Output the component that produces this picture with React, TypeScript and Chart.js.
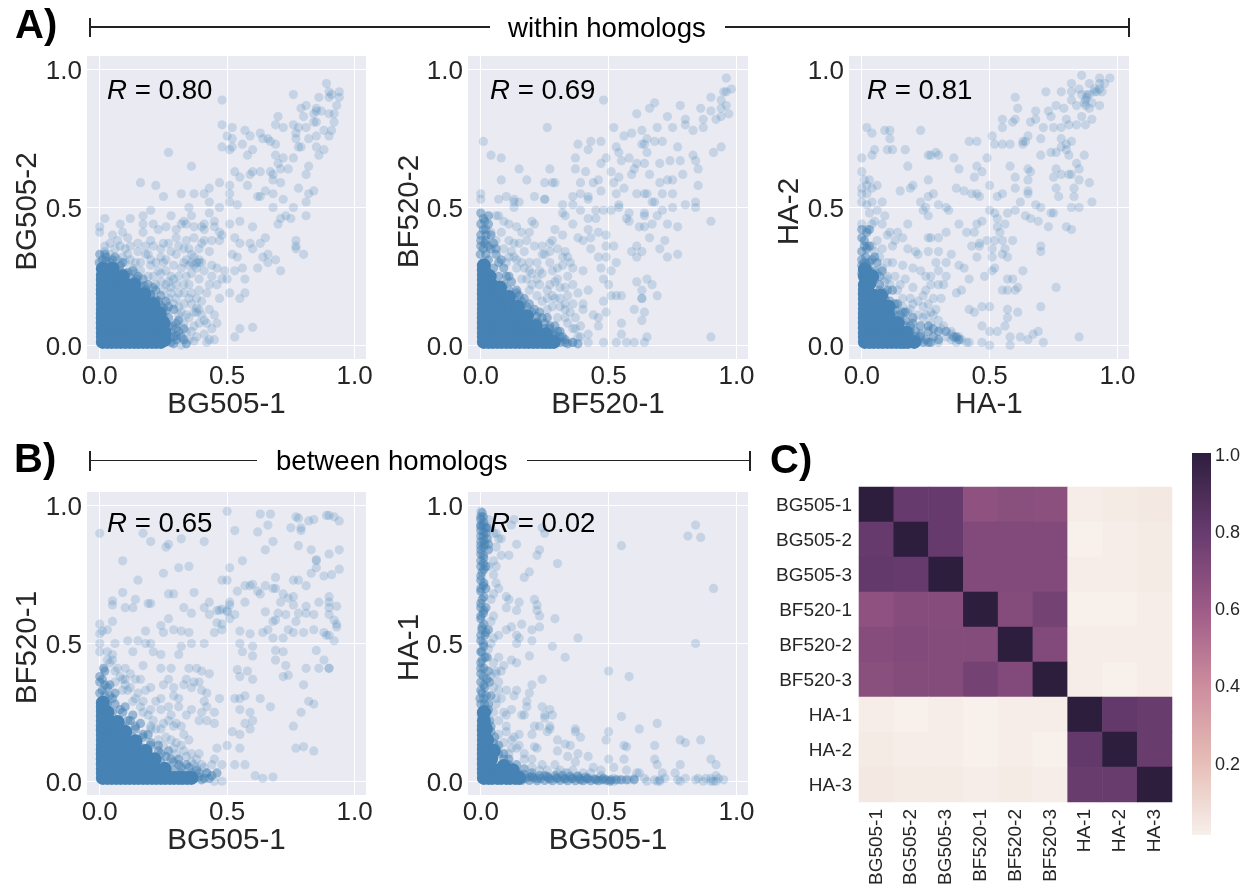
import React, { useEffect, useRef } from "react";
import { Chart, registerables } from "chart.js";

Chart.register(...registerables);

const FONT = '"Liberation Sans", Arial, sans-serif';
const INK = "#262626";
const tickValues = [0, 0.5, 1];
const sampleNames = ["BG505-1", "BG505-2", "BG505-3", "BF520-1", "BF520-2", "BF520-3", "HA-1", "HA-2", "HA-3"];
const colorbarTicks = [0.2, 0.4, 0.6, 0.8, 1.0];

type P = number[];

const a1Core: P[] = [[.012,.012],[.047,.012],[.082,.012],[.117,.012],[.152,.012],[.187,.012],[.222,.012],[.012,.045],[.047,.045],[.082,.045],[.117,.045],[.152,.045],[.187,.045],[.225,.045],[.012,.08],[.047,.08],[.082,.08],[.117,.08],[.152,.08],[.187,.08],[.222,.08],[.012,.115],[.047,.115],[.082,.115],[.117,.115],[.152,.115],[.187,.115],[.212,.115],[.012,.15],[.047,.15],[.082,.15],[.117,.15],[.152,.15],[.182,.15],[.012,.185],[.047,.185],[.082,.185],[.117,.185],[.145,.185],[.012,.22],[.047,.22],[.082,.22],[.105,.22],[.012,.255],[.047,.255],[.012,.278],[.255,.02],[.255,.045],[.25,.08],[.235,.115],[.21,.15],[.175,.185],[.135,.22],[.09,.25],[.05,.278],[.012,.03],[.012,.062],[.012,.098],[.012,.132],[.012,.168],[.012,.202],[.012,.238],[.03,.012],[.065,.012],[.1,.012],[.135,.012],[.17,.012],[.205,.012],[.24,.012]];
const a1Edge: P[] = [[.06,.285],[.08,.27],[.1,.26],[.12,.245],[.14,.23],[.16,.215],[.18,.2],[.2,.18],[.22,.165],[.24,.145],[.26,.125],[.255,.09],[.27,.07],[.28,.045],[.29,.03],[.26,.02],[.28,.01],[.3,.02],[.25,.1],[.23,.13],[-.002,.3],[.01,.31],[.025,.32],[.04,.3],[.15,.25],[.19,.22],[.22,.2],[.26,.16],[.29,.13],[.31,.09],[.33,.06],[.32,.03],[.3,.06],[.29,.005],[.3,.035],[.285,.07],[.27,.1],[.25,.135],[.23,.16],[.2,.185],[.175,.215],[.145,.24],[.11,.265],[.08,.29],[.05,.31],[.025,.305],[.3,.08],[.31,.05],[.33,.02],[.34,.005],[.27,.14],[.24,.18],[.21,.21],[.17,.24],[.13,.27],[.09,.3],[.06,.32],[.02,.33],[.0,.33]];
const a1Sparse: P[] = [[.89,.95],[.94,.92],[.94,.9],[.9,.9],[.9,.92],[.91,.91],[.86,.9],[.76,.91],[.48,.89],[.79,.86],[.81,.87],[.85,.86],[.84,.84],[.85,.85],[.87,.85],[.93,.87],[.9,.84],[.92,.84],[.92,.81],[.85,.81],[.84,.81],[.8,.83],[.7,.83],[.69,.8],[.72,.79],[.76,.8],[.78,.79],[.81,.79],[.88,.78],[.91,.78],[.9,.76],[.77,.77],[.77,.75],[.79,.72],[.78,.72],[.82,.75],[.85,.76],[.85,.72],[.88,.71],[.86,.69],[.48,.8],[.52,.79],[.57,.78],[.63,.77],[.59,.76],[.66,.75],[.64,.75],[.67,.74],[.69,.73],[.5,.76],[.52,.75],[.56,.73],[.6,.71],[.48,.72],[.51,.71],[.52,.72],[.27,.7],[.36,.65],[.58,.69],[.69,.69],[.72,.68],[.7,.66],[.76,.68],[.71,.64],[.74,.64],[.82,.65],[.81,.62],[.53,.63],[.55,.61],[.59,.62],[.6,.63],[.63,.63],[.68,.62],[.67,.63],[.68,.6],[.71,.59],[.78,.57],[.82,.55],[.84,.56],[.16,.59],[.22,.58],[.32,.55],[.37,.55],[.25,.54],[.47,.59],[.51,.58],[.43,.57],[.41,.55],[.58,.58],[.51,.55],[.65,.56],[.62,.54],[.63,.54],[.68,.55],[.72,.53],[.81,.52],[.76,.5],[.68,.5],[.43,.52],[.47,.5],[.51,.52],[.54,.51],[.35,.5],[.2,.49],[.17,.47],[.02,.46],[.0,.43],[.08,.44],[.12,.46],[.17,.44],[.21,.44],[.28,.47],[.33,.45],[.36,.47],[.43,.48],[.41,.44],[.45,.45],[.55,.45],[.51,.44],[.6,.43],[.7,.44],[.71,.46],[.73,.47],[.75,.46],[.81,.47],[.0,.41],[.02,.36],[.02,.34],[.09,.41],[.11,.39],[.17,.41],[.23,.42],[.26,.43],[.3,.42],[.32,.44],[.34,.44],[.37,.43],[.4,.43],[.45,.43],[.47,.41],[.48,.4],[.47,.38],[.53,.39],[.55,.37],[.59,.37],[.6,.35],[.65,.39],[.63,.37],[.66,.33],[.64,.32],[.69,.31],[.66,.3],[.77,.38],[.77,.36],[.77,.35],[.8,.33],[.71,.27],[.62,.28],[.52,.33],[.54,.32],[.53,.27],[.56,.28],[.57,.24],[.49,.27],[.48,.24],[.5,.24],[.43,.22],[.46,.22],[.51,.19],[.55,.17],[.57,.19],[.47,.17],[.42,.19],[.39,.2],[.34,.25],[.37,.29],[.39,.31],[.38,.28],[.36,.3],[.38,.3],[.3,.33],[.33,.35],[.27,.37],[.21,.36],[.18,.33],[.16,.3],[.11,.33],[.14,.3],[.24,.32],[.29,.29],[.26,.27],[.21,.25],[.24,.23],[.3,.22],[.35,.22],[.33,.19],[.36,.15],[.4,.11],[.39,.08],[.41,.04],[.43,.02],[.38,.03],[.34,.05],[.32,.12],[.3,.17],[.28,.19],[.46,.08],[.53,.03],[.55,.06],[.6,.065],[.42,.01],[.45,.02],[.32,.0],[.37,.015],[.44,.06],[.04,.37],[.06,.35],[.08,.36],[.12,.36],[.25,.37],[.3,.39],[.35,.35],[.43,.34],[.4,.37],[.41,.42],[.44,.38],[.34,.31],[.28,.25],[.26,.22],[.32,.28],[.25,.3],[.2,.29],[.23,.27],[.09,.32],[.14,.26],[.33,.15],[.37,.12],[.38,.17],[.35,.1],[.04,.33],[.07,.31],[.1,.3],[.13,.28],[.16,.27],[.19,.25],[.22,.22],[.25,.2],[.27,.17],[.29,.15],[.31,.11],[.33,.08],[.36,.05],[.35,.02],[.34,.11],[.31,.14],[.28,.21],[.22,.3],[.19,.33],[.15,.34],[.12,.31],[.1,.35],[.07,.38],[.05,.4],[.26,.31],[.28,.34],[.31,.36],[.34,.38],[.37,.39],[.41,.38],[.39,.35],[.36,.33],[.33,.3],[.31,.25],[.36,.26],[.39,.24],[.41,.27],[.44,.29],[.46,.28],[.44,.25],[.4,.16],[.43,.13],[.42,.08],[.45,.11],[.38,.12],[.36,.19],[.33,.22],[.29,.24],[.24,.26],[.2,.31],[.39,.13],[.38,.135],[.41,.09],[.37,.07],[.35,.17],[.31,.19],[.27,.23],[.35,.29],[.4,.3],[.39,.3],[.37,.32],[.24,.35],[.18,.36],[.15,.37],[.2,.38]];

const a2Core: P[] = [[.012,.012],[.047,.012],[.082,.012],[.117,.012],[.152,.012],[.187,.012],[.222,.012],[.255,.012],[.285,.012],[.012,.045],[.047,.045],[.082,.045],[.117,.045],[.152,.045],[.187,.045],[.218,.04],[.255,.04],[.012,.08],[.047,.08],[.082,.08],[.117,.08],[.152,.08],[.18,.075],[.215,.07],[.012,.115],[.047,.115],[.082,.115],[.117,.115],[.145,.11],[.18,.105],[.012,.15],[.047,.15],[.082,.15],[.11,.15],[.145,.14],[.012,.185],[.047,.185],[.082,.18],[.11,.175],[.012,.22],[.047,.215],[.075,.21],[.012,.255],[.035,.25],[.012,.29],[.012,.03],[.012,.062],[.012,.098],[.012,.132],[.012,.168],[.012,.202],[.012,.238],[.012,.272],[.03,.012],[.065,.012],[.1,.012],[.135,.012],[.17,.012],[.205,.012],[.24,.012],[.27,.012]];
const a2Edge: P[] = [[-.002,.33],[.01,.35],[.02,.33],[.03,.31],[.05,.28],[.07,.25],[.09,.22],[.11,.2],[.13,.17],[.16,.14],[.19,.11],[.22,.085],[.25,.06],[.28,.04],[.3,.02],[.31,.01],[.33,.01],[.27,.07],[.24,.1],[.21,.13],[.17,.17],[.14,.2],[.1,.25],[.07,.3],[.04,.35],[.02,.38],[.0,.4],[.01,.42],[.0,.44],[.01,.46],[.02,.4],[.06,.33],[.3,.05],[.32,.03],[.0,.36],[.015,.37],[.03,.36],[.0,.38],[.02,.42],[.03,.44],[.015,.45],[.0,.48],[.03,.47],[.04,.4],[.05,.37],[.06,.35],[.08,.31],[.09,.28],[.11,.25],[.12,.23],[.14,.19],[.16,.16],[.18,.14],[.2,.12],[.22,.105],[.25,.08],[.27,.06],[.29,.04],[.31,.03],[.33,.02],[.34,.005],[.36,.01],[.38,.005],[.15,.18],[.19,.15],[.23,.12],[.26,.1],[.29,.07],[.31,.05]];
const a2Sparse: P[] = [[.96,.97],[.98,.93],[.95,.92],[.96,.92],[.9,.9],[.48,.89],[.94,.89],[.96,.87],[.94,.86],[.9,.85],[.86,.86],[.97,.84],[.92,.82],[.94,.83],[.87,.82],[.68,.88],[.66,.86],[.78,.87],[.61,.84],[.73,.83],[.8,.82],[.75,.79],[.8,.8],[.83,.78],[.87,.79],[.26,.79],[.52,.79],[.59,.77],[.63,.78],[.69,.79],[.56,.76],[.01,.74],[.04,.69],[.08,.68],[.38,.73],[.43,.74],[.47,.74],[.42,.71],[.53,.72],[.54,.7],[.63,.73],[.65,.75],[.68,.74],[.71,.74],[.64,.73],[.65,.7],[.77,.72],[.94,.72],[.91,.7],[.83,.69],[.37,.68],[.49,.68],[.58,.68],[.55,.67],[.47,.66],[.61,.66],[.64,.66],[.7,.66],[.74,.67],[.78,.67],[.84,.67],[.85,.64],[.15,.64],[.27,.64],[.37,.64],[.41,.63],[.51,.63],[.6,.64],[.08,.6],[.18,.6],[.25,.59],[.28,.59],[.29,.59],[.39,.59],[.44,.59],[.46,.6],[.54,.61],[.52,.59],[.59,.62],[.66,.62],[.79,.62],[.7,.59],[.73,.6],[.75,.6],[.85,.58],[.47,.56],[.56,.57],[.0,.55],[.0,.53],[.07,.53],[.1,.54],[.13,.53],[.21,.54],[.25,.53],[.25,.53],[.39,.55],[.36,.54],[.42,.54],[.42,.53],[.53,.55],[.61,.55],[.65,.55],[.64,.55],[.71,.55],[.75,.55],[.67,.52],[.68,.52],[.8,.51],[.84,.52],[.84,.5],[.75,.5],[.71,.49],[.13,.52],[.15,.52],[.13,.5],[.32,.51],[.36,.51],[.39,.49],[.45,.49],[.48,.49],[.51,.49],[.54,.5],[.54,.51],[.58,.48],[.64,.48],[.64,.47],[.69,.47],[.57,.46],[.58,.45],[.67,.44],[.73,.44],[.62,.43],[.64,.43],[.77,.43],[.9,.45],[.32,.48],[.33,.47],[.36,.44],[.42,.46],[.45,.46],[.29,.42],[.32,.4],[.42,.42],[.46,.41],[.49,.4],[.66,.39],[.72,.38],[.7,.35],[.73,.32],[.77,.33],[.63,.34],[.59,.34],[.61,.36],[.61,.32],[.49,.36],[.52,.36],[.46,.32],[.49,.32],[.53,.3],[.47,.28],[.51,.27],[.48,.24],[.5,.22],[.61,.23],[.65,.24],[.67,.22],[.63,.2],[.69,.18],[.63,.17],[.63,.17],[.55,.18],[.51,.18],[.53,.18],[.42,.2],[.48,.16],[.6,.13],[.64,.12],[.63,.09],[.49,.12],[.55,.08],[.46,.1],[.44,.11],[.46,.07],[.55,.04],[.65,.03],[.9,.03],[.48,.01],[.53,.01],[.57,.01],[.6,.01],[.64,.01],[.42,.01],[.36,.01],[.38,.03],[.42,.04],[.39,.07],[.37,.1],[.4,.15],[.36,.15],[.34,.18],[.38,.19],[.4,.13],[.07,.47],[.09,.45],[.11,.44],[.06,.47],[.14,.43],[.2,.45],[.21,.44],[.16,.41],[.19,.41],[.24,.36],[.27,.37],[.28,.38],[.13,.37],[.17,.34],[.22,.3],[.25,.33],[.32,.32],[.34,.32],[.35,.3],[.36,.28],[.4,.27],[.32,.29],[.19,.3],[.22,.24],[.29,.23],[.31,.17],[.26,.2],[.22,.18],[.28,.14],[.33,.1],[.34,.08],[.36,.06],[.3,.1],[.36,.22],[.34,.25],[.19,.27],[.24,.26],[.28,.27],[.38,.39],[.4,.38],[.43,.39],[.43,.35],[.3,.24],[.04,.41],[.06,.38],[.09,.35],[.12,.34],[.14,.31],[.17,.28],[.2,.26],[.23,.22],[.26,.17],[.29,.17],[.31,.14],[.33,.13],[.35,.12],[.37,.06],[.39,.03],[.33,.21],[.3,.28],[.27,.3],[.24,.33],[.21,.36],[.18,.38],[.15,.37],[.11,.38],[.08,.41],[.11,.32],[.14,.28],[.16,.24],[.19,.2],[.24,.16],[.26,.13],[.28,.18],[.33,.15],[.27,.34],[.3,.35],[.33,.34],[.2,.22],[.18,.24],[.16,.3],[.13,.32],[.1,.3],[.23,.27],[.27,.22],[.31,.21]];

const a3Core: P[] = [[.012,.012],[.047,.012],[.082,.012],[.117,.012],[.152,.012],[.18,.012],[.012,.045],[.047,.045],[.082,.045],[.117,.045],[.15,.045],[.012,.08],[.047,.08],[.082,.08],[.117,.08],[.012,.115],[.047,.115],[.082,.115],[.105,.105],[.012,.15],[.047,.15],[.075,.145],[.012,.185],[.047,.18],[.012,.22],[.03,.225],[.012,.25],[.012,.275],[.04,.25],[.075,.18],[.105,.14],[.14,.08],[.175,.045],[.205,.012],[.012,.03],[.012,.062],[.012,.098],[.012,.132],[.012,.168],[.012,.202],[.03,.012],[.065,.012],[.1,.012],[.135,.012],[.165,.012]];
const a3Edge: P[] = [[.0,.26],[.01,.27],[.02,.29],[.0,.29],[.03,.27],[.05,.24],[.07,.2],[.09,.17],[.11,.14],[.13,.11],[.15,.09],[.17,.07],[.19,.05],[.21,.03],[.22,.015],[.24,.01],[.23,.04],[.2,.08],[.16,.12],[.13,.15],[.1,.2],[.07,.25],[.04,.31],[.06,.3],[.27,.01],[.26,.05],[.0,.34],[.01,.36],[.02,.35],[.01,.38],[.0,.42],[.03,.42],[.0,.31],[.015,.32],[.03,.3],[.05,.27],[.07,.22],[.09,.19],[.11,.16],[.13,.13],[.15,.11],[.17,.09],[.19,.07],[.21,.05],[.23,.03],[.25,.02],[.26,.01],[.28,.03],[.3,.02],[.01,.3],[.0,.39],[.02,.41],[.03,.36],[.05,.32],[.08,.27],[.12,.2],[.14,.15],[.17,.12],[.2,.1],[.23,.07],[.26,.07],[.28,.06],[.3,.05],[.33,.05],[.36,.03],[.38,.02],[.37,.03]];
const a3Sparse: P[] = [[.86,.98],[.97,.97],[.93,.97],[.95,.95],[.92,.92],[.93,.93],[.875,.89],[.88,.9],[.87,.88],[.82,.95],[.89,.95],[.91,.93],[.94,.92],[.85,.93],[.82,.89],[.84,.87],[.89,.86],[.79,.86],[.8,.82],[.9,.82],[.86,.83],[.93,.87],[.82,.92],[.78,.92],[.875,.87],[.89,.91],[.91,.92],[.93,.95],[.86,.91],[.88,.91],[.9,.88],[.78,.79],[.81,.8],[.84,.8],[.875,.8],[.72,.92],[.6,.9],[.61,.86],[.76,.87],[.73,.85],[.68,.85],[.74,.83],[.68,.82],[.55,.82],[.59,.81],[.6,.82],[.55,.79],[.66,.81],[.71,.79],[.75,.79],[.02,.79],[.04,.77],[.09,.78],[.11,.78],[.23,.78],[.11,.75],[.51,.76],[.42,.74],[.45,.74],[.52,.73],[.55,.73],[.58,.73],[.63,.74],[.65,.76],[.64,.74],[.63,.73],[.7,.75],[.78,.75],[.8,.73],[.82,.74],[.78,.72],[.8,.71],[.05,.71],[.1,.71],[.12,.71],[.17,.71],[.0,.68],[.04,.69],[.26,.69],[.29,.7],[.3,.69],[.27,.69],[.36,.68],[.49,.68],[.7,.69],[.74,.7],[.76,.7],[.81,.69],[.87,.69],[.84,.66],[.85,.64],[.76,.64],[.18,.65],[.0,.63],[.38,.64],[.45,.65],[.47,.63],[.58,.65],[.65,.64],[.66,.63],[.78,.62],[.81,.62],[.82,.62],[.01,.6],[.03,.6],[.26,.6],[.44,.61],[.6,.61],[.65,.6],[.75,.61],[.85,.6],[.89,.59],[.02,.58],[.0,.57],[.04,.57],[.06,.58],[.2,.58],[.19,.57],[.15,.56],[.37,.57],[.4,.56],[.45,.55],[.5,.58],[.6,.57],[.65,.56],[.76,.57],[.83,.57],[.0,.55],[.02,.55],[.26,.54],[.28,.55],[.43,.55],[.46,.54],[.53,.54],[.55,.55],[.65,.55],[.77,.54],[.83,.54],[.9,.52],[.0,.52],[.02,.51],[.04,.52],[.08,.52],[.23,.52],[.25,.5],[.3,.51],[.33,.5],[.34,.49],[.62,.52],[.7,.5],[.68,.51],[.06,.49],[.03,.48],[.09,.47],[.24,.49],[.26,.47],[.5,.49],[.52,.48],[.57,.48],[.6,.49],[.64,.47],[.75,.48],[.74,.48],[.82,.5],[.85,.5],[.53,.46],[.47,.45],[.66,.46],[.69,.45],[.05,.45],[.08,.44],[.04,.44],[.0,.44],[.18,.44],[.38,.44],[.45,.44],[.53,.43],[.56,.44],[.73,.43],[.8,.43],[.82,.42],[.02,.42],[.1,.4],[.11,.41],[.14,.41],[.33,.41],[.41,.41],[.44,.41],[.54,.41],[.3,.39],[.27,.39],[.26,.39],[.55,.38],[.46,.37],[.49,.38],[.52,.38],[.59,.38],[.43,.36],[.46,.36],[.51,.35],[.56,.35],[.7,.36],[.7,.34],[.02,.36],[.05,.34],[.08,.35],[.12,.36],[.13,.38],[.16,.39],[.18,.35],[.21,.34],[.26,.34],[.3,.34],[.35,.33],[.45,.32],[.51,.32],[.55,.33],[.57,.32],[.29,.3],[.33,.3],[.38,.29],[.4,.28],[.52,.28],[.63,.27],[.51,.27],[.42,.24],[.48,.25],[.59,.24],[.57,.24],[.76,.21],[.55,.2],[.57,.2],[.6,.2],[.61,.21],[.37,.19],[.39,.2],[.27,.22],[.3,.22],[.32,.22],[.25,.2],[.31,.17],[.17,.24],[.2,.28],[.12,.3],[.08,.28],[.1,.25],[.2,.21],[.47,.14],[.5,.14],[.42,.13],[.44,.12],[.57,.13],[.61,.12],[.7,.14],[.57,.1],[.56,.07],[.5,.05],[.47,.07],[.53,.05],[.69,.05],[.58,.03],[.62,.03],[.65,.02],[.67,.04],[.85,.03],[.71,.01],[.58,.0],[.5,.0],[.47,.01],[.42,.01],[.35,.02],[.38,.03],[.35,.05],[.31,.06],[.27,.08],[.28,.11],[.3,.09],[.24,.14],[.2,.15],[.18,.12],[.16,.17],[.1,.24],[.33,.03],[.3,.01],[.39,.02],[.41,.01],[.26,.15],[.24,.1],[.06,.26],[.09,.23],[.11,.22],[.14,.2],[.15,.22],[.13,.25],[.16,.14],[.19,.13],[.22,.11],[.25,.11],[.27,.12],[.29,.13],[.32,.07],[.35,.04],[.37,.01],[.19,.17],[.22,.16],[.24,.18],[.28,.17],[.16,.29],[.22,.33],[.23,.27],[.25,.25],[.27,.25],[.3,.27],[.33,.25],[.06,.38],[.04,.36],[.07,.32],[.1,.3]];

const b1Core: P[] = [[.012,.012],[.047,.012],[.082,.012],[.117,.012],[.152,.012],[.187,.012],[.222,.012],[.257,.012],[.292,.012],[.325,.012],[.36,.012],[.012,.045],[.047,.045],[.082,.045],[.117,.045],[.152,.045],[.187,.045],[.222,.04],[.255,.045],[.012,.08],[.047,.08],[.082,.08],[.117,.08],[.152,.08],[.182,.075],[.215,.08],[.012,.115],[.047,.115],[.082,.115],[.117,.115],[.145,.11],[.18,.11],[.012,.15],[.047,.15],[.082,.15],[.105,.145],[.14,.145],[.012,.185],[.047,.18],[.072,.175],[.1,.18],[.012,.22],[.04,.215],[.07,.215],[.012,.255],[.03,.25],[.012,.285],[.012,.03],[.012,.062],[.012,.098],[.012,.132],[.012,.168],[.012,.202],[.012,.238],[.012,.27],[.03,.012],[.065,.012],[.1,.012],[.135,.012],[.17,.012],[.205,.012],[.24,.012],[.275,.012],[.31,.012],[.343,.012]];
const b1Edge: P[] = [[.01,.33],[.0,.32],[.02,.31],[.03,.28],[.05,.25],[.07,.22],[.09,.2],[.11,.18],[.13,.16],[.15,.14],[.17,.12],[.19,.1],[.21,.085],[.24,.07],[.26,.05],[.29,.04],[.32,.03],[.34,.01],[.37,.01],[.39,.015],[.41,.01],[.36,.03],[.31,.06],[.28,.08],[.24,.1],[.2,.13],[.17,.16],[.14,.19],[.11,.22],[.08,.26],[.05,.3],[.03,.34],[.01,.37],[.0,.36],[.02,.4],[.4,.005],[.43,.01],[.39,.03],[.35,.05],[.32,.05],[.29,.07],[.26,.09],[.23,.11],[.2,.14],[.17,.17],[.14,.2],[.12,.22],[.09,.25],[.06,.28],[.04,.31],[.02,.35],[.0,.38],[.015,.41],[.04,.35],[.06,.32],[.1,.27],[.13,.24],[.16,.21],[.19,.17],[.23,.13],[.27,.11],[.31,.08],[.34,.06],[.38,.04],[.42,.03],[.44,.02],[.46,.03]];
const b1Sparse: P[] = [[.0,.9],[.17,.9],[.5,.98],[.63,.97],[.67,.97],[.77,.96],[.78,.955],[.82,.945],[.84,.95],[.89,.965],[.9,.965],[.92,.96],[.94,.945],[.66,.93],[.75,.92],[.79,.92],[.79,.91],[.53,.91],[.62,.905],[.2,.87],[.27,.86],[.26,.85],[.32,.88],[.41,.87],[.68,.87],[.65,.84],[.78,.855],[.83,.84],[.9,.825],[.94,.84],[.85,.805],[.85,.8],[.09,.8],[.35,.78],[.25,.755],[.31,.775],[.56,.8],[.51,.775],[.85,.775],[.94,.77],[.91,.75],[.88,.745],[.83,.755],[.15,.73],[.48,.73],[.5,.73],[.69,.74],[.76,.73],[.78,.73],[.59,.71],[.6,.715],[.57,.71],[.65,.71],[.68,.7],[.69,.7],[.54,.69],[.81,.71],[.09,.685],[.27,.68],[.29,.68],[.37,.685],[.62,.69],[.63,.68],[.72,.68],[.74,.665],[.76,.67],[.05,.655],[.05,.64],[.14,.66],[.19,.645],[.2,.645],[.43,.65],[.51,.65],[.51,.64],[.57,.65],[.71,.65],[.76,.64],[.81,.635],[.86,.65],[.9,.67],[.9,.65],[.9,.63],[.93,.635],[.1,.63],[.13,.63],[.33,.63],[.41,.63],[.47,.62],[.48,.625],[.5,.62],[.46,.62],[.36,.61],[.43,.605],[.5,.615],[.53,.605],[.65,.615],[.7,.61],[.73,.605],[.78,.61],[.81,.61],[.84,.605],[.9,.605],[.27,.59],[.05,.58],[.51,.59],[.68,.58],[.69,.585],[.77,.58],[.92,.585],[.93,.57],[.46,.575],[.48,.57],[.93,.56],[.24,.565],[.0,.57],[.03,.55],[.0,.535],[.01,.545],[.18,.545],[.25,.54],[.29,.55],[.32,.545],[.35,.54],[.45,.54],[.48,.55],[.55,.545],[.59,.535],[.64,.54],[.66,.55],[.74,.55],[.76,.54],[.8,.54],[.84,.55],[.88,.54],[.89,.53],[.9,.53],[.92,.51],[.0,.5],[.06,.5],[.11,.51],[.15,.51],[.18,.5],[.2,.5],[.32,.49],[.36,.5],[.41,.5],[.55,.5],[.6,.49],[.68,.52],[.72,.52],[.0,.47],[.03,.47],[.05,.46],[.13,.47],[.21,.47],[.24,.46],[.31,.46],[.56,.47],[.69,.475],[.72,.47],[.85,.475],[.6,.455],[.69,.44],[.88,.44],[.9,.41],[.73,.42],[.17,.42],[.24,.41],[.28,.41],[.35,.41],[.38,.41],[.4,.4],[.54,.405],[.58,.4],[.81,.41],[.86,.41],[.9,.41],[.74,.385],[.72,.38],[.6,.37],[.55,.38],[.8,.35],[.34,.37],[.43,.39],[.27,.37],[.37,.36],[.4,.33],[.42,.32],[.29,.31],[.31,.3],[.47,.3],[.55,.3],[.57,.31],[.53,.3],[.63,.3],[.67,.27],[.79,.25],[.82,.29],[.84,.28],[.42,.27],[.45,.25],[.55,.26],[.59,.25],[.6,.22],[.57,.21],[.76,.2],[.77,.12],[.8,.125],[.84,.11],[.42,.22],[.45,.21],[.52,.18],[.55,.17],[.59,.19],[.46,.12],[.5,.13],[.55,.12],[.48,.06],[.53,.06],[.57,.06],[.61,.02],[.64,.01],[.68,.015],[.45,.0],[.48,.0],[.44,.06],[.42,.03],[.4,.06],[.38,.05],[.36,.1],[.33,.17],[.29,.2],[.27,.22],[.2,.26],[.17,.29],[.15,.32],[.1,.37],[.07,.41],[.04,.43],[.05,.44],[.08,.38],[.1,.41],[.16,.37],[.2,.34],[.24,.3],[.27,.27],[.31,.27],[.34,.24],[.3,.21],[.25,.21],[.2,.19],[.2,.2],[.23,.15],[.28,.15],[.32,.13],[.3,.1],[.38,.08],[.03,.44],[.06,.4],[.09,.37],[.12,.34],[.14,.3],[.16,.27],[.19,.24],[.21,.22],[.24,.19],[.26,.16],[.3,.14],[.33,.11],[.36,.07],[.41,.05],[.45,.08],[.39,.1],[.35,.15],[.32,.2],[.28,.24],[.24,.26],[.22,.29],[.18,.33],[.14,.37],[.12,.39],[.25,.35],[.29,.34],[.33,.35],[.36,.34],[.39,.36],[.41,.29],[.4,.25],[.36,.26],[.39,.22],[.1,.35],[.11,.33],[.13,.29],[.17,.25],[.22,.19],[.25,.13],[.29,.12],[.34,.09],[.37,.06],[.06,.36],[.09,.33]];

const b2Core: P[] = [[.012,.012],[.045,.012],[.08,.012],[.115,.012],[.15,.012],[.012,.045],[.045,.045],[.075,.04],[.012,.08],[.04,.08],[.012,.115],[.032,.115],[.012,.15],[.025,.15],[.012,.185],[.012,.22],[.012,.25],[.02,.19],[.05,.11],[.09,.055],[.125,.04],[.012,.03],[.012,.062],[.012,.098],[.012,.132],[.012,.168],[.012,.202],[.03,.012],[.065,.012],[.1,.012],[.135,.012]];
const b2Edge: P[] = [[-.003,.3],[.005,.32],[.015,.34],[.0,.36],[.01,.38],[.0,.41],[.005,.44],[.0,.47],[.01,.5],[.0,.53],[.005,.56],[.0,.59],[.01,.61],[.0,.63],[.005,.66],[.0,.69],[.01,.71],[.0,.73],[.005,.76],[.01,.79],[.0,.8],[.01,.82],[.0,.84],[.015,.86],[.0,.87],[.01,.89],[.02,.9],[.0,.91],[.01,.93],[.02,.92],[.0,.95],[.01,.96],[.0,.93],[.03,.28],[.025,.25],[.04,.2],[.055,.16],[.07,.13],[.09,.1],[.11,.08],[.14,.06],[.17,.045],[.2,.03],[.19,.015],[.22,.01],[.25,.02],[.27,.008],[.3,.01],[.33,.008],[.36,.01],[.39,.005],[.42,.01],[.45,.005],[.48,.01],[.51,.005],[.55,.005],[.57,.005],[.6,.005],[.015,.28],[.02,.2],[.03,.55],[.02,.63],[.02,.7],[.02,.78],[.03,.84],[.02,.54],[.025,.45],[.03,.4],[.035,.36],[.04,.31],[.002,.24],[.012,.26],[.0,.28],[.012,.3],[.022,.31],[.0,.33],[.012,.35],[.024,.37],[.0,.39],[.012,.41],[.0,.43],[.016,.45],[.004,.47],[.012,.49],[.0,.51],[.016,.53],[.004,.55],[.012,.57],[.0,.6],[.012,.62],[.0,.645],[.012,.67],[.0,.7],[.012,.72],[.0,.745],[.012,.77],[.0,.78],[.012,.81],[.0,.825],[.012,.85],[.0,.855],[.012,.875],[.0,.89],[.012,.905],[.025,.88],[.0,.925],[.012,.94],[.025,.92],[.03,.86],[.0,.96],[.005,.975],[.16,.003],[.175,.01],[.19,.003],[.205,.012],[.22,.002],[.235,.01],[.25,.003],[.265,.012],[.28,.002],[.295,.012],[.31,.003],[.325,.01],[.34,.002],[.355,.01],[.37,.002],[.385,.01],[.4,.002],[.415,.008],[.43,.002],[.445,.008],[.46,.002],[.475,.005],[.49,.004],[.505,.0],[.53,.005],[.145,.03],[.13,.045],[.11,.06],[.09,.08],[.07,.1],[.06,.12],[.05,.14],[.04,.18],[.035,.22],[.03,.26],[.17,.025],[.2,.018],[.23,.02],[.26,.018],[.29,.02],[.32,.02],[.35,.018],[.38,.018],[.41,.015]];
const b2Sparse: P[] = [[.0,.98],[.13,.95],[.12,.93],[.25,.9],[.24,.92],[.84,.93],[.81,.89],[.86,.885],[.55,.855],[.14,.86],[.08,.88],[.06,.9],[.23,.84],[.22,.82],[.3,.79],[.11,.82],[.08,.82],[.06,.85],[.05,.8],[.19,.76],[.17,.74],[.91,.7],[.07,.7],[.1,.67],[.11,.66],[.1,.63],[.15,.65],[.21,.66],[.22,.64],[.14,.62],[.22,.62],[.23,.6],[.29,.59],[.12,.56],[.16,.57],[.1,.55],[.07,.53],[.14,.53],[.15,.52],[.2,.55],[.23,.56],[.38,.52],[.14,.5],[.2,.51],[.84,.5],[.28,.49],[.33,.45],[.19,.455],[.12,.44],[.09,.42],[.14,.43],[.07,.45],[.05,.43],[.06,.39],[.08,.4],[.5,.4],[.58,.38],[.24,.37],[.2,.35],[.07,.33],[.1,.33],[.14,.33],[.13,.31],[.19,.32],[.18,.29],[.18,.27],[.06,.28],[.1,.24],[.12,.26],[.17,.24],[.16,.24],[.24,.27],[.27,.26],[.25,.24],[.28,.24],[.25,.23],[.55,.235],[.21,.2],[.23,.2],[.27,.2],[.26,.18],[.27,.19],[.69,.21],[.37,.19],[.37,.18],[.62,.19],[.5,.18],[.2,.17],[.15,.17],[.1,.18],[.13,.16],[.3,.15],[.39,.16],[.49,.15],[.78,.15],[.8,.14],[.86,.15],[.33,.135],[.35,.13],[.56,.13],[.57,.125],[.68,.13],[.21,.125],[.22,.12],[.3,.11],[.38,.1],[.9,.08],[.92,.06],[.42,.09],[.34,.09],[.37,.07],[.5,.08],[.56,.08],[.68,.08],[.69,.06],[.78,.06],[.44,.05],[.47,.04],[.52,.05],[.57,.04],[.61,.03],[.62,.03],[.71,.03],[.76,.03],[.92,.02],[.93,.01],[.95,.005],[.9,.01],[.91,.0],[.88,.01],[.85,.01],[.84,.005],[.8,.01],[.78,.0],[.77,.005],[.72,.01],[.7,.005],[.69,.0],[.68,.005],[.65,.0],[.64,.01],[.6,.01],[.58,.005],[.54,.005],[.52,.01],[.52,.0],[.5,.005],[.46,.01],[.92,.0],[.9,.0],[.87,.0],[.7,.0],[.31,.04],[.34,.03],[.38,.02],[.43,.03],[.47,.02],[.29,.06],[.24,.06],[.2,.08],[.17,.1],[.15,.13],[.12,.12],[.03,.48],[.04,.5],[.05,.52],[.04,.58],[.05,.6],[.04,.66],[.05,.68],[.06,.72],[.05,.75],[.03,.78],[.06,.78],[.04,.92],[.03,.95],[.07,.88],[.05,.9],[.06,.4],[.07,.36],[.08,.3],[.09,.25],[.07,.22],[.1,.2],[.12,.15],[.14,.12],[.17,.08],[.2,.05],[.23,.04],[.26,.04],[.3,.03],[.33,.03],[.36,.04],[.4,.03],[.11,.1],[.09,.14],[.07,.17],[.05,.25],[.06,.3],[.05,.34],[.04,.38]];

const heatValues: number[][] = [
  [1, .8, .8, .65, .67, .66, .02, .03, .04],
  [.8, 1, .8, .7, .7, .7, .01, .02, .03],
  [.81, .8, 1, .7, .7, .7, .02, .02, .03],
  [.65, .68, .68, 1, .69, .75, .01, .01, .02],
  [.68, .7, .69, .69, 1, .7, .02, .02, .02],
  [.67, .69, .69, .75, .7, 1, .02, .01, .02],
  [.02, .01, .02, .01, .02, .02, 1, .81, .79],
  [.03, .02, .02, .01, .02, .01, .81, 1, .79],
  [.04, .03, .03, .02, .03, .02, .79, .79, 1],
];

const rampStops: [number, number[]][] = [
  [0.01, [247, 240, 235]],
  [0.2, [230, 189, 182]],
  [0.4, [204, 140, 157]],
  [0.6, [156, 90, 134]],
  [0.8, [102, 58, 109]],
  [1.0, [45, 30, 62]],
];

function rampColor(v: number): string {
  for (let i = 1; i < rampStops.length; i++) {
    const [v1, c1] = rampStops[i];
    const [v0, c0] = rampStops[i - 1];
    if (v <= v1) {
      const t = Math.max(0, (v - v0) / (v1 - v0));
      return `rgb(${c0.map((c, k) => Math.round(c + (c1[k] - c) * t)).join(",")})`;
    }
  }
  return "rgb(45,30,62)";
}

const panelBackground = {
  id: "panelBackground",
  beforeDraw(chart: any) {
    const { ctx, chartArea: a } = chart;
    ctx.save();
    ctx.fillStyle = "#eaeaf2";
    ctx.fillRect(a.left, a.top, a.right - a.left, a.bottom - a.top);
    ctx.restore();
  },
};

const toXY = (pts: P[]) => pts.map(([x, y]) => ({ x, y }));

type PanelProps = {
  box: number[];
  plotInset: number[];
  titlePad: number;
  xLabel: string;
  yLabel: string;
  core: P[];
  edge: P[];
  sparse: P[];
};

function ScatterPanel({ box, plotInset, titlePad, xLabel, yLabel, core, edge, sparse }: PanelProps) {
  const ref = useRef<HTMLCanvasElement>(null);
  useEffect(() => {
    const [L, T, R, B] = plotInset;
    const setTicks = (s: any) => { s.ticks = tickValues.map((value) => ({ value })); };
    const tick = { color: INK, font: { family: FONT, size: 26 }, callback: (v: any) => Number(v).toFixed(1), maxRotation: 0 };
    const grid = { color: "#ffffff", lineWidth: 1, drawTicks: false };
    const chart = new Chart(ref.current!, {
      type: "scatter",
      data: {
        datasets: [
          { label: "dense", data: toXY(core), backgroundColor: "rgb(70,130,180)", pointRadius: 7, pointBorderWidth: 0, order: 1 },
          { label: "edge", data: toXY(edge), backgroundColor: "rgba(70,130,180,0.5)", pointRadius: 4.6, pointBorderWidth: 0, order: 2 },
          { label: "sparse", data: toXY(sparse), backgroundColor: "rgba(70,130,180,0.22)", pointRadius: 4.6, pointBorderWidth: 0, order: 3 },
        ],
      },
      options: {
        animation: false,
        responsive: false,
        events: [],
        layout: { padding: { top: T, right: R, left: 0, bottom: 0 } },
        plugins: { legend: { display: false }, tooltip: { enabled: false } },
        scales: {
          x: {
            type: "linear", min: -0.05, max: 1.045, afterBuildTicks: setTicks,
            afterFit: (s: any) => { s.height = B; },
            grid, border: { display: false }, ticks: { ...tick, padding: 2 },
            title: { display: true, text: xLabel, color: INK, font: { family: FONT, size: 29.6 }, padding: { top: 0, bottom: 7.5 } },
          },
          y: {
            type: "linear", min: -0.05, max: 1.05, afterBuildTicks: setTicks,
            afterFit: (s: any) => { s.width = L; },
            grid, border: { display: false }, ticks: { ...tick, padding: 5, labelOffset: 2.5 },
            title: { display: true, text: yLabel + " ", color: INK, font: { family: FONT, size: 29.6 }, padding: { top: titlePad, bottom: 0 } },
          },
        },
      },
      plugins: [panelBackground],
    } as any);
    return () => chart.destroy();
  }, []);
  return <canvas ref={ref} width={box[2]} height={box[3]} style={{ position: "absolute", left: box[0], top: box[1] }} />;
}

function Heatmap() {
  const ref = useRef<HTMLCanvasElement>(null);
  useEffect(() => {
    const cells = heatValues.flatMap((row, r) => row.map((v, c) => ({ x: sampleNames[c], y: sampleNames[r], v })));
    const lab = { color: INK, font: { family: FONT, size: 19 } };
    const chart = new Chart(ref.current!, {
      type: "scatter",
      data: {
        datasets: [{
          label: "correlation",
          data: cells,
          pointStyle: "rect",
          pointBorderWidth: 0,
          backgroundColor: (c: any) => rampColor(c.raw ? c.raw.v : 1),
          pointRadius: (c: any) => {
            const a = c.chart.chartArea;
            return a ? ((a.right - a.left) / sampleNames.length) * Math.SQRT1_2 + 0.4 : 1;
          },
        }],
      },
      options: {
        animation: false,
        responsive: false,
        events: [],
        layout: { padding: { top: 27, right: 28 } },
        plugins: { legend: { display: false }, tooltip: { enabled: false } },
        scales: {
          x: {
            type: "category", labels: sampleNames, offset: true,
            afterFit: (s: any) => { s.height = 83; },
            grid: { display: false, drawTicks: false }, border: { display: false },
            ticks: { ...lab, autoSkip: false, minRotation: 90, maxRotation: 90, padding: 7 },
          },
          y: {
            type: "category", labels: sampleNames, offset: true,
            afterFit: (s: any) => { s.width = 89; },
            grid: { display: false, drawTicks: false }, border: { display: false },
            ticks: { ...lab, autoSkip: false, padding: 7, labelOffset: 1.5 },
          },
        },
      },
    } as any);
    return () => chart.destroy();
  }, []);
  return <canvas ref={ref} width={430} height={425} style={{ position: "absolute", left: 770, top: 460 }} />;
}

function Colorbar() {
  const ref = useRef<HTMLCanvasElement>(null);
  useEffect(() => {
    const chart = new Chart(ref.current!, {
      type: "bar",
      data: {
        labels: ["scale"],
        datasets: [{
          data: [[0.01, 1.0]],
          barPercentage: 1,
          categoryPercentage: 1,
          backgroundColor: (c: any) => {
            const a = c.chart.chartArea;
            if (!a) return "#888";
            const g = c.chart.ctx.createLinearGradient(0, a.bottom, 0, a.top);
            rampStops.forEach(([v]) => {
              g.addColorStop((v - 0.01) / 0.99, rampColor(v));
            });
            return g;
          },
        }],
      },
      options: {
        animation: false,
        responsive: false,
        events: [],
        layout: { padding: { top: 23, left: 12, bottom: 25 } },
        plugins: { legend: { display: false }, tooltip: { enabled: false } },
        scales: {
          x: { display: false },
          y: {
            position: "right", min: 0.01, max: 1.0,
            afterBuildTicks: (s: any) => { s.ticks = colorbarTicks.map((value) => ({ value })); },
            afterFit: (s: any) => { s.width = 43; },
            grid: { display: false, drawTicks: false }, border: { display: false },
            ticks: { color: INK, padding: 4, labelOffset: 3, font: { family: FONT, size: 18 }, callback: (v: any) => Number(v).toFixed(1) },
          },
        },
      },
    } as any);
    return () => chart.destroy();
  }, []);
  return <canvas ref={ref} width={74} height={430} style={{ position: "absolute", left: 1180, top: 430 }} />;
}

const abs = (left: number, top: number, extra: React.CSSProperties = {}): React.CSSProperties => ({
  position: "absolute", left, top, fontFamily: FONT, whiteSpace: "nowrap", ...extra,
});

function Rule({ x0, x1, y }: { x0: number; x1: number; y: number }) {
  return <div style={abs(x0, y, { width: x1 - x0, height: 1.8, background: "#222" })} />;
}

function Cap({ x, top, h }: { x: number; top: number; h: number }) {
  return <div style={abs(x, top, { width: 1.8, height: h, background: "#222" })} />;
}

function Letter({ text, left, top }: { text: string; left: number; top: number }) {
  return <div style={abs(left, top, { fontSize: 40, lineHeight: "40px", fontWeight: 700, color: "#000" })}>{text}</div>;
}

function RValue({ value, left, top }: { value: string; left: number; top: number }) {
  return (
    <div style={abs(left, top, { fontSize: 27.7, lineHeight: "28px", color: "#000" })}>
      <i>R</i> = {value}
    </div>
  );
}

function Header({ text, left, top }: { text: string; left: number; top: number }) {
  return <div style={abs(left, top, { fontSize: 27.6, lineHeight: "28px", color: "#000" })}>{text}</div>;
}

export default function App() {
  return (
    <div style={{ position: "absolute", left: 0, top: 0, width: 1254, height: 885, overflow: "hidden", background: "#fff", filter: "blur(0.4px)" }}>
      <ScatterPanel box={[0, 30, 400, 400]} plotInset={[87, 26, 34, 71]} titlePad={10} xLabel="BG505-1" yLabel="BG505-2" core={a1Core} edge={a1Edge} sparse={a1Sparse} />
      <ScatterPanel box={[390, 30, 390, 400]} plotInset={[78, 26, 32, 71]} titlePad={2.5} xLabel="BF520-1" yLabel="BF520-2" core={a2Core} edge={a2Edge} sparse={a2Sparse} />
      <ScatterPanel box={[770, 30, 390, 400]} plotInset={[79, 26, 31, 71]} titlePad={2.5} xLabel="HA-1" yLabel="HA-2" core={a3Core} edge={a3Edge} sparse={a3Sparse} />
      <ScatterPanel box={[0, 466, 400, 400]} plotInset={[87, 26, 34, 71]} titlePad={10} xLabel="BG505-1" yLabel="BF520-1" core={b1Core} edge={b1Edge} sparse={b1Sparse} />
      <ScatterPanel box={[390, 466, 390, 400]} plotInset={[78, 26, 32, 71]} titlePad={2.5} xLabel="BG505-1" yLabel="HA-1" core={b2Core} edge={b2Edge} sparse={b2Sparse} />
      <Heatmap />
      <Colorbar />

      <Letter text="A)" left={15} top={4} />
      <Letter text="B)" left={14} top={438} />
      <Letter text="C)" left={770} top={439} />

      <Rule x0={90} x1={490} y={26} />
      <Rule x0={725} x1={1129} y={26} />
      <Cap x={89} top={18} h={19} />
      <Cap x={1128} top={18} h={19} />
      <Header text="within homologs" left={508} top={14} />

      <Rule x0={90} x1={257} y={459.5} />
      <Rule x0={527} x1={750} y={459.5} />
      <Cap x={89} top={451} h={20} />
      <Cap x={749} top={451} h={20} />
      <Header text="between homologs" left={276} top={447} />

      <RValue value="0.80" left={107} top={76} />
      <RValue value="0.69" left={490} top={76} />
      <RValue value="0.81" left={867} top={76} />
      <RValue value="0.65" left={107} top={509} />
      <RValue value="0.02" left={490} top={509} />
    </div>
  );
}
